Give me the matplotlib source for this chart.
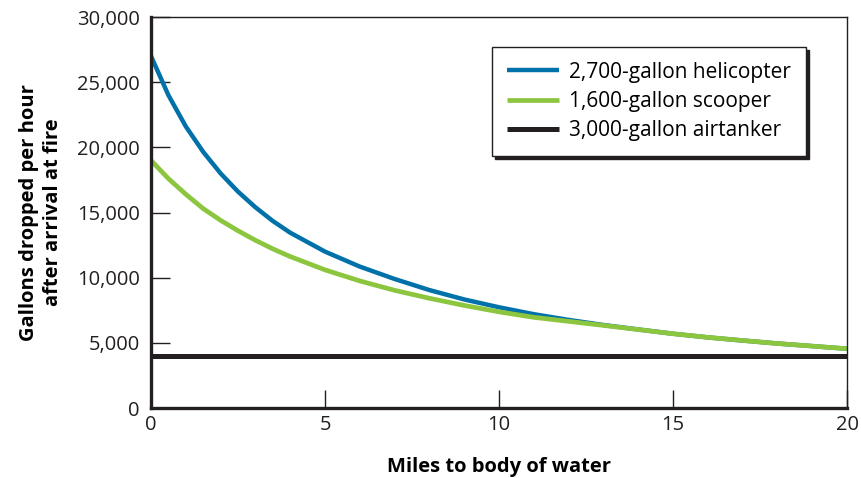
import matplotlib.pyplot as plt

plt.rcParams['font.family'] = ['Open Sans', 'DejaVu Sans']

### Data
miles = [0, 0.5, 1, 1.5, 2, 2.5, 3, 3.5, 4, 5, 6, 7, 8, 9, 10,
         11, 12, 13, 14, 15, 16, 17, 18, 19, 20]
helicopter = [27000, 24000, 21600, 19650, 18000, 16600, 15400, 14350, 13450, 12000, 10850,
              9900, 9050, 8330, 7730, 7200, 6760, 6370, 6030, 5700, 5420,
              5180, 4950, 4750, 4550]
scooper = [19000, 17600, 16400, 15300, 14400, 13600, 12870, 12210, 11620, 10600, 9750,
           9030, 8420, 7870, 7380, 6960, 6650, 6340, 6020, 5700, 5420,
           5180, 4950, 4750, 4550]
airtanker_miles = [0, 20]
airtanker = [4000, 4000]

labels = ['2,700-gallon helicopter', '1,600-gallon scooper', '3,000-gallon airtanker']
colors = ['#0071a9', '#8cc63f', '#231f20']

### Plot
fig = plt.figure(figsize=(8.62, 4.78), dpi=100)
ax = fig.add_axes([0.1752, 0.1464, 0.8074, 0.818])

ax.plot(miles, helicopter, color=colors[0], lw=3.2, label=labels[0], solid_capstyle='butt')
ax.plot(miles, scooper, color=colors[1], lw=3.4, label=labels[1], solid_capstyle='butt')
ax.plot(airtanker_miles, airtanker, color=colors[2], lw=3.6, label=labels[2], solid_capstyle='butt')

ax.set_xlim(0, 20)
ax.set_ylim(0, 30000)
ax.set_xticks([0, 5, 10, 15, 20])
ax.set_yticks(range(0, 30001, 5000))
ax.set_yticklabels([f'{v:,}' for v in range(0, 30001, 5000)])

ax.tick_params(axis='both', direction='in', labelsize=14.5, colors='#231f20', width=1)
ax.tick_params(axis='x', length=13, pad=5)
ax.tick_params(axis='y', length=14, pad=8)

for side in ['left', 'bottom']:
    ax.spines[side].set_linewidth(2.4)
    ax.spines[side].set_color('#231f20')
for side in ['top', 'right']:
    ax.spines[side].set_linewidth(1.0)
    ax.spines[side].set_color('#231f20')

ax.set_xlabel('Miles to body of water', fontsize=14.5, fontweight='bold', labelpad=16)
ax.set_ylabel('Gallons dropped per hour\nafter arrival at fire', fontsize=14.5,
              fontweight='bold', labelpad=10, linespacing=1.3)

leg = ax.legend(loc='upper right', bbox_to_anchor=(0.941, 0.923), fontsize=15,
                frameon=True, fancybox=False, handlelength=2.5, handletextpad=0.5,
                borderpad=0.7, labelspacing=0.4, borderaxespad=0,
                shadow={'color': '#231f20', 'alpha': 1})
leg.get_frame().set_edgecolor('#231f20')
leg.get_frame().set_linewidth(1.0)

plt.savefig('out.png', dpi=100)
